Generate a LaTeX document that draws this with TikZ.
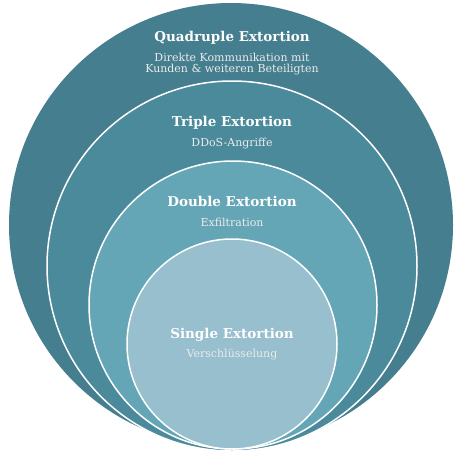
\documentclass[tikz,border=0pt]{standalone}
\usepackage{fontspec}
\setmainfont{DejaVu Serif}
\begin{document}
\begin{tikzpicture}[x=1pt,y=-1pt,
  ring/.style={circle,inner sep=0pt,outer sep=0pt,draw=white,line width=1.5pt},
  title/.style={anchor=base,text=white,font=\bfseries\fontsize{13.5}{16}\selectfont,inner sep=0pt},
  sub/.style={anchor=base,text=white!92!black,font=\fontsize{11}{10.8}\selectfont,inner sep=0pt,align=center}]
  \definecolor{quadcol}{HTML}{457E8E}
  \definecolor{triplecol}{HTML}{4A8A9B}
  \definecolor{doublecol}{HTML}{65A6B6}
  \definecolor{singlecol}{HTML}{97BFCD}
  \useasboundingbox[fill=white] (0,0) rectangle (454,450);
  % nested extortion rings
  \node[circle,inner sep=0pt,fill=quadcol,minimum size=444pt] (quad) at (231,225) {};
  \node[ring,fill=triplecol,minimum size=370pt] (triple) at (232,266) {};
  \node[ring,fill=doublecol,minimum size=288pt] (double) at (233,305) {};
  \node[ring,fill=singlecol,minimum size=210pt] (single) at (232,344) {};
  % labels (a two-line node sits on the baseline of its last line)
  \node[title] (quadT) at (232,41.5) {Quadruple Extortion};
  \node[sub] (quadS) at (232,72.5) {Direkte Kommunikation mit\\Kunden \& weiteren Beteiligten};
  \node[title] (tripleT) at (232,126.5) {Triple Extortion};
  \node[sub] (tripleS) at (232,146.5) {DDoS-Angriffe};
  \node[title] (doubleT) at (232,206.7) {Double Extortion};
  \node[sub] (doubleS) at (232,226.5) {Exfiltration};
  \node[title] (singleT) at (232,338.5) {Single Extortion};
  \node[sub] (singleS) at (232,357) {Verschlüsselung};
\end{tikzpicture}
\end{document}
